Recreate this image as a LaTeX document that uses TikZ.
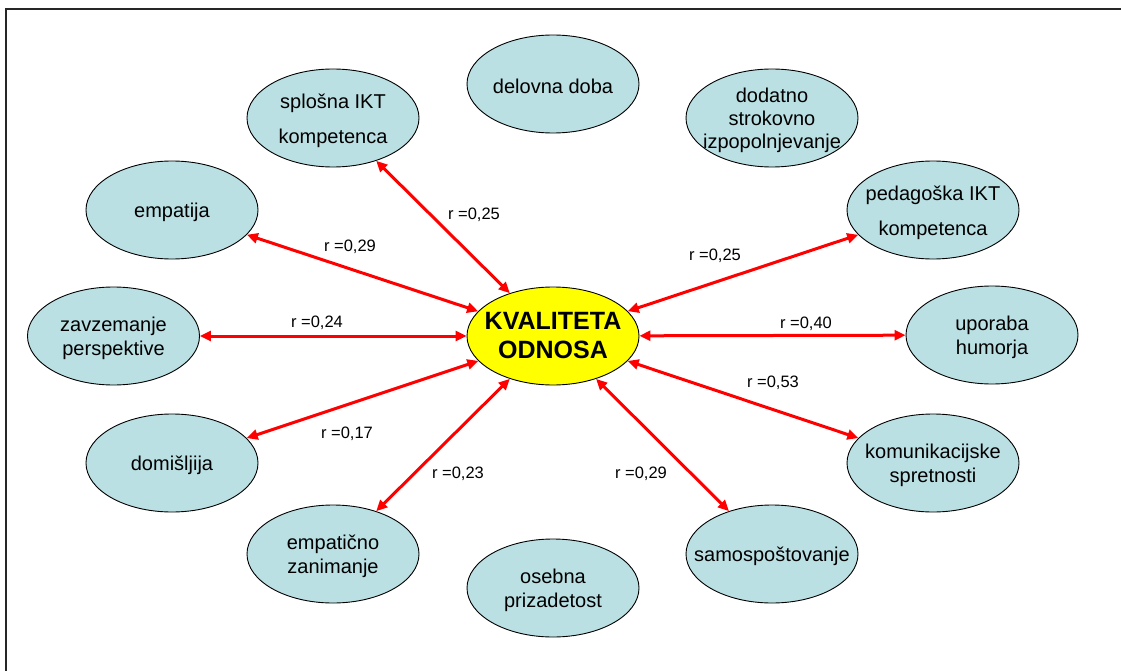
\documentclass[tikz,border=0pt]{standalone}
\usepackage{fontspec}
\setmainfont{Liberation Sans}
\usetikzlibrary{shapes.geometric,arrows.meta}
\definecolor{bubblefill}{HTML}{BAE0E3}
\definecolor{corefill}{HTML}{FFFF00}
\definecolor{linkred}{HTML}{FF0000}
\tikzset{
  bubble/.style={ellipse, draw=black, line width=0.9pt, fill=bubblefill,
    minimum width=172pt, minimum height=98pt, inner sep=0pt},
  core/.style={bubble, fill=corefill},
  bubtext/.style={align=center, font=\fontsize{20}{24}\selectfont,
    inner sep=0pt, yshift=-2.5pt},
  coretext/.style={align=center, font=\fontsize{25}{29}\selectfont\bfseries,
    inner sep=0pt},
  link/.style={draw=linkred, line width=3pt,
    {Triangle[length=11pt,width=10pt]}-{Triangle[length=11pt,width=10pt]}},
  rval/.style={font=\fontsize{16.5}{20}\selectfont, inner sep=0pt},
  frameline/.style={draw=black!85, line width=2pt},
}
\begin{document}
\begin{tikzpicture}[x=1pt,y=-1pt]
\useasboundingbox (0,0) rectangle (1121,671);
\fill[white] (0,0) rectangle (1121,671);

% outer frame (left and top edges)
\draw[frameline] (5.5,671) -- (5.5,9.5) -- (1121,9.5);

% ellipses
\node[bubble] (ikt1)  at (333,118) {};
\node[bubble] (delo)  at (553,84)  {};
\node[bubble] (dodat) at (772,118) {};
\node[bubble] (ikt2)  at (933,210) {};
\node[bubble] (emp)   at (172,210) {};
\node[bubble] (zavz)  at (113.5,336) {};
\node[core]   (core)  at (553,336) {};
\node[bubble] (humor) at (992,335) {};
\node[bubble] (domi)  at (172,463) {};
\node[bubble] (komu)  at (933,463) {};
\node[bubble] (empz)  at (333,554) {};
\node[bubble] (oseb)  at (553,588) {};
\node[bubble] (samo)  at (772,554) {};

% texts inside the ellipses
\node[bubtext] (ikt1-t)  at (ikt1)  {splošna IKT\\[11pt]kompetenca};
\node[bubtext] (delo-t)  at (delo)  {delovna doba};
\node[bubtext, font=\fontsize{20}{23}\selectfont] (dodat-t) at (dodat)
  {dodatno\\strokovno\\izpopolnjevanje};
\node[bubtext] (ikt2-t)  at (ikt2)  {pedagoška IKT\\[11pt]kompetenca};
\node[bubtext] (emp-t)   at (emp)   {empatija};
\node[bubtext] (zavz-t)  at (zavz)  {zavzemanje\\perspektive};
\node[coretext] (core-t) at (core)  {KVALITETA\\ODNOSA};
\node[bubtext] (humor-t) at (humor) {uporaba\\humorja};
\node[bubtext] (domi-t)  at (domi)  {domišljija};
\node[bubtext] (komu-t)  at (komu)  {komunikacijske\\spretnosti};
\node[bubtext] (empz-t)  at (empz)  {empatično\\zanimanje};
\node[bubtext] (oseb-t)  at (oseb)  {osebna\\prizadetost};
\node[bubtext] (samo-t)  at (samo)  {samospoštovanje};

% correlations
\draw[link] (core) -- (ikt1);
\draw[link] (core) -- (emp);
\draw[link] (core) -- (zavz);
\draw[link] (core) -- (domi);
\draw[link] (core) -- (empz);
\draw[link] (core) -- (samo);
\draw[link] (core) -- (komu);
\draw[link] (core) -- (humor);
\draw[link] (core) -- (ikt2);

% correlation values
\node[rval] (r-ikt1)  at (474,215) {r =0,25};
\node[rval] (r-emp)   at (350,247) {r =0,29};
\node[rval] (r-zavz)  at (317,323) {r =0,24};
\node[rval] (r-domi)  at (347,434) {r =0,17};
\node[rval] (r-empz)  at (458,474) {r =0,23};
\node[rval] (r-samo)  at (641,474) {r =0,29};
\node[rval] (r-ikt2)  at (715,256) {r =0,25};
\node[rval] (r-humor) at (806,324) {r =0,40};
\node[rval] (r-komu)  at (773,383) {r =0,53};
\end{tikzpicture}
\end{document}
